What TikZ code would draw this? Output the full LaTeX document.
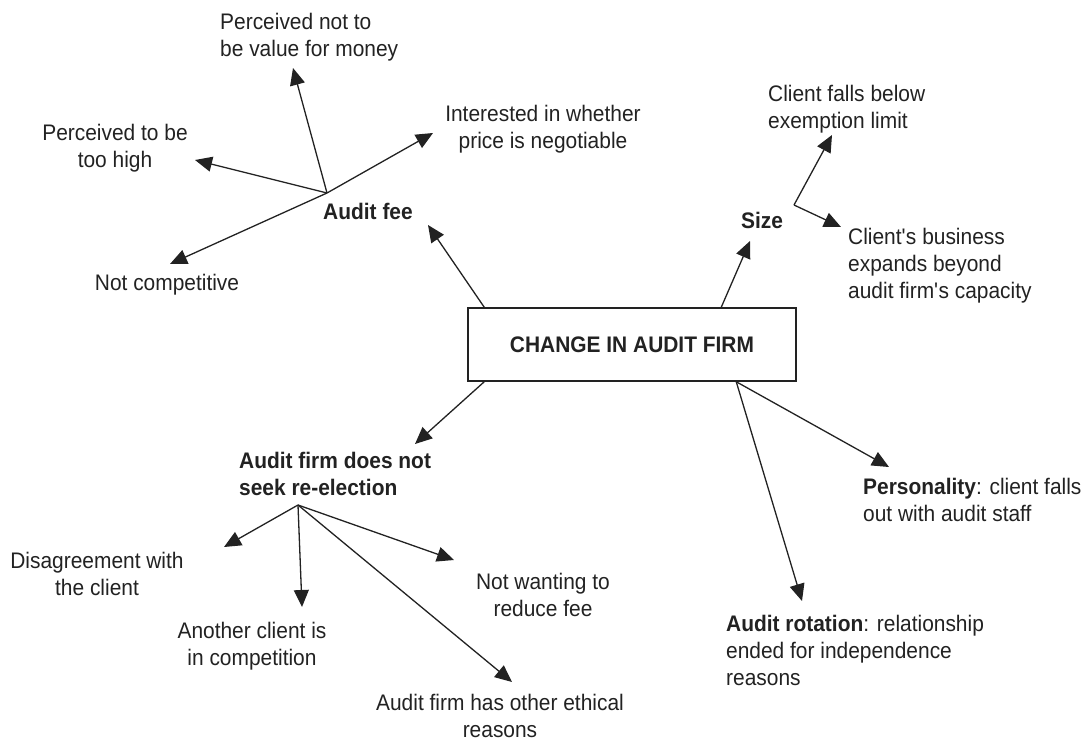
\documentclass[tikz,border=0pt]{standalone}
\usepackage{fontspec}
\setmainfont{Liberation Sans}[FakeStretch=0.93]
\usetikzlibrary{arrows.meta}
\definecolor{ink}{HTML}{222222}

\begin{document}
\begin{tikzpicture}[x=1pt, y=-1pt, >={Triangle[length=17pt,width=15pt]}]
	\tikzstyle{txt} = [inner sep=0pt, text=ink, font=\fontsize{22.5}{27}\selectfont]
	\tikzstyle{head} = [txt, font=\fontsize{22.5}{27}\selectfont\bfseries]
	\tikzstyle{bigbox} = [draw=ink, line width=1.5pt, fill=white, minimum width=328pt, minimum height=73pt]
	\useasboundingbox (0,0) rectangle (1090,742);
	\begin{scope}
	  % centre and the five causes
	  \node[bigbox, head] (change) at (632,344.5) {CHANGE IN AUDIT FIRM};
	  \node[head, anchor=north] (fee) at (368,203) {Audit fee};
	  \node[head, anchor=north] (size) at (762,212) {Size};
	  \node[head, anchor=north west, align=left] (afd) at (239,452) {Audit firm does not\\seek re-election};
	  \node[txt, anchor=north west, align=left] (pers) at (863,478) {\textbf{Personality}: client falls\\out with audit staff};
	  \node[txt, anchor=north west, align=left] (rot) at (726,615) {\textbf{Audit rotation}: relationship\\ended for independence\\reasons};
	  % audit fee
	  \node[txt, anchor=north west, align=left] (pnv) at (220,13) {Perceived not to\\be value for money};
	  \node[txt, anchor=north, align=center] (ptb) at (115,124) {Perceived to be\\too high};
	  \node[txt, anchor=north, align=center] (neg) at (543,105) {Interested in whether\\price is negotiable};
	  \node[txt, anchor=north] (nc) at (167,274) {Not competitive};
	  % size
	  \node[txt, anchor=north west, align=left] (cfb) at (768,85) {Client falls below\\exemption limit};
	  \node[txt, anchor=north west, align=left] (cbe) at (848,228) {Client\textquotesingle s business\\expands beyond\\audit firm\textquotesingle s capacity};
	  % audit firm does not seek re-election
	  \node[txt, anchor=north, align=center] (dis) at (97,552) {Disagreement with\\the client};
	  \node[txt, anchor=north, align=center] (acl) at (252,622) {Another client is\\in competition};
	  \node[txt, anchor=north, align=center] (nwr) at (543,573) {Not wanting to\\reduce fee};
	  \node[txt, anchor=north, align=center] (eth) at (500,694) {Audit firm has other ethical\\reasons};
	  % hubs and arrow ends
	  \coordinate (feehub) at (327,193);
	  \coordinate (sizehub) at (794,205);
	  \coordinate (afdhub) at (298,505);
	  \coordinate (fee-end) at (428,225);
	  \coordinate (size-end) at (750,241);
	  \coordinate (afd-end) at (415,444);
	  \coordinate (pers-end) at (889,467);
	  \coordinate (rot-end) at (802,601);
	  \coordinate (pnv-end) at (293,68);
	  \coordinate (ptb-end) at (195,160);
	  \coordinate (neg-end) at (433,133);
	  \coordinate (nc-end) at (170,264);
	  \coordinate (cfb-end) at (832,135);
	  \coordinate (cbe-end) at (841,227);
	  \coordinate (dis-end) at (224,547);
	  \coordinate (acl-end) at (302,607);
	  \coordinate (nwr-end) at (454,560);
	  \coordinate (eth-end) at (512,682);
	  \path[->, ink, line width=1.3pt]
	  ([xshift=17]change.north west) edge (fee-end)
	  ([xshift=254]change.north west) edge (size-end)
	  ([xshift=17]change.south west) edge (afd-end)
	  ([xshift=269]change.south west) edge (pers-end)
	  ([xshift=269]change.south west) edge (rot-end)
	  (feehub) edge (pnv-end)
	  (feehub) edge (ptb-end)
	  (feehub) edge (neg-end)
	  (feehub) edge (nc-end)
	  (sizehub) edge (cfb-end)
	  (sizehub) edge (cbe-end)
	  (afdhub) edge (dis-end)
	  (afdhub) edge (acl-end)
	  (afdhub) edge (nwr-end)
	  (afdhub) edge (eth-end)
	  ;
	\end{scope}
\end{tikzpicture}
\end{document}
